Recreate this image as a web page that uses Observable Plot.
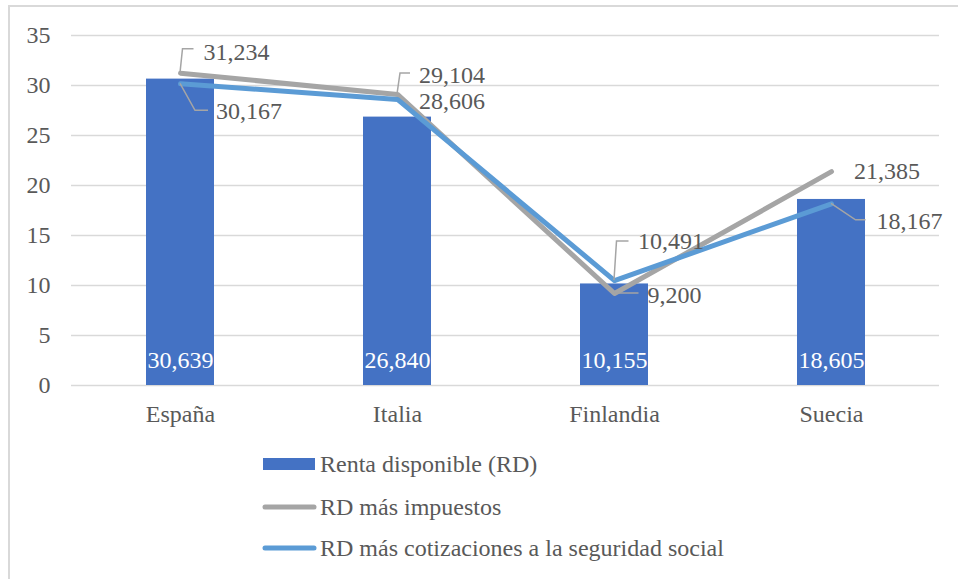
<!DOCTYPE html>
<html>
<head>
<meta charset="utf-8">
<script src="https://cdn.jsdelivr.net/npm/d3@7"></script>
<script src="https://cdn.jsdelivr.net/npm/@observablehq/plot@0.6"></script>
<style>
  html, body { margin: 0; padding: 0; background: #fff; }
  #wrap { position: relative; width: 958px; height: 579px; overflow: hidden; font-family: "Liberation Serif", Tinos, "DejaVu Serif", serif; }
  #border { position: absolute; left: 8px; top: 5px; width: 1000px; height: 700px; border: 2px solid #D9D9D9; box-sizing: border-box; }
  #chart { position: absolute; left: 0; top: 0; }
  .leg { position: absolute; left: 260px; height: 30px; width: 600px; }
  .leg svg { position: absolute; left: 0; top: 0; }
  .leg span { position: absolute; left: 60px; top: 0; font-size: 24px; color: #595959; white-space: nowrap; line-height: 30px; font-family: "Liberation Serif", Tinos, "DejaVu Serif", serif; }
</style>
</head>
<body>
<div id="wrap">
  <div id="border"></div>
  <div id="chart"></div>
  <div id="legend"></div>
</div>
<script>
const categories = ["España", "Italia", "Finlandia", "Suecia"];
const renta = [30.639, 26.840, 10.155, 18.605];
const impuestos = [31.234, 29.104, 9.200, 21.385];
const cotizaciones = [30.167, 28.606, 10.491, 18.167];
const yTicks = [0, 5, 10, 15, 20, 25, 30, 35];
const seriesNames = ["Renta disponible (RD)", "RD más impuestos", "RD más cotizaciones a la seguridad social"];

const FONT = "'Liberation Serif', Tinos, 'DejaVu Serif', serif";
const FS = 24;
const colBar = "#4472C4", colGray = "#A5A5A5", colBlue = "#5B9BD5", textCol = "#595959";
const fmt = d3.formatLocale({decimal: ",", thousands: ".", grouping: [3], currency: ["", "€"]}).format(".3f");

const bars = categories.map((c, i) => ({cat: c, v: renta[i]}));
const gray = categories.map((c, i) => ({cat: c, v: impuestos[i]}));
const blue = categories.map((c, i) => ({cat: c, v: cotizaciones[i]}));

// label offsets (pixels): [dx, dy, leader polyline points]
const grayLab = [
  {dx: 23, dy: -21, lead: [[0, 0], [2.5, -24], [13.5, -24]]},
  {dx: 21.5, dy: -19, lead: [[0, 0], [3, -21], [13, -21]]},
  {dx: 33, dy: 2, lead: [[0, 0], [24.5, 0]]},
  {dx: 22.5, dy: 0, lead: null}
];
const blueLab = [
  {dx: 35.5, dy: 27, lead: [[0, 0], [15, 27], [28, 27]]},
  {dx: 21.5, dy: 2, lead: null},
  {dx: 23.5, dy: -39, lead: [[0, 0], [2.5, -39], [14.5, -39]]},
  {dx: 45, dy: 17, lead: [[0, 0], [24.5, 16.5], [34.5, 16.5]]}
];

const labelMarks = [];
[[gray, grayLab], [blue, blueLab]].forEach(([data, labs]) => {
  data.forEach((d, i) => {
    labelMarks.push(Plot.text([d], {
      x: "cat", y: "v", text: dd => fmt(dd.v),
      dx: labs[i].dx, dy: labs[i].dy, textAnchor: "start", lineAnchor: "middle",
      fill: textCol, fontSize: FS, fontFamily: FONT
    }));
  });
});

const plot = Plot.plot({
  width: 958,
  height: 440,
  marginLeft: 71,
  marginRight: 19,
  marginTop: 35,
  marginBottom: 55,
  style: {fontFamily: FONT, fontSize: FS + "px", color: textCol, background: "transparent"},
  x: {domain: categories, paddingInner: 0.687, paddingOuter: 0.3435, align: 0.5, label: null},
  y: {domain: [0, 35], label: null},
  marks: [
    Plot.gridY(yTicks, {stroke: "#D9D9D9", strokeOpacity: 1, strokeWidth: 1.5}),
    Plot.axisY(yTicks, {tickSize: 0, tickPadding: 21, fontSize: FS, fontFamily: FONT, fill: textCol, label: null}),
    Plot.axisX({tickSize: 0, tickPadding: 19, fontSize: FS, fontFamily: FONT, fill: textCol, label: null}),
    Plot.barY(bars, {x: "cat", y: "v", fill: colBar}),
    Plot.text(bars, {x: "cat", y: 0, text: d => fmt(d.v), dy: -25, fill: "white", fontSize: FS, fontFamily: FONT, lineAnchor: "middle"}),
    Plot.line(gray, {x: "cat", y: "v", stroke: colGray, strokeWidth: 5, strokeLinejoin: "round", strokeLinecap: "round"}),
    Plot.line(blue, {x: "cat", y: "v", stroke: colBlue, strokeWidth: 5, strokeLinejoin: "round", strokeLinecap: "round"}),
    ...labelMarks
  ]
});
document.getElementById("chart").appendChild(plot);

// leader lines, positioned through the plot's own scales
const xs = plot.scale("x"), ys = plot.scale("y");
const bw = xs.bandwidth || 0;
const svg = d3.select(plot);
const g = svg.append("g").attr("fill", "none").attr("stroke", colGray).attr("stroke-width", 1.5);
[[gray, grayLab], [blue, blueLab]].forEach(([data, labs]) => {
  data.forEach((d, i) => {
    if (!labs[i].lead) return;
    const px = xs.apply(d.cat) + bw / 2, py = ys.apply(d.v);
    g.append("path").attr("d", d3.line()(labs[i].lead.map(([a, b]) => [px + a, py + b])));
  });
});

// legend
const leg = document.getElementById("legend");
const legendTops = [449, 492, 533];
seriesNames.forEach((name, i) => {
  const div = document.createElement("div");
  div.className = "leg";
  div.style.top = legendTops[i] + "px";
  const sw = i === 0
    ? `<svg width="60" height="30"><rect x="3" y="9" width="52" height="12" fill="${colBar}"/></svg>`
    : `<svg width="60" height="30"><line x1="5" y1="15" x2="54" y2="15" stroke="${i === 1 ? colGray : colBlue}" stroke-width="5" stroke-linecap="round"/></svg>`;
  div.innerHTML = sw + `<span>${name}</span>`;
  leg.appendChild(div);
});
</script>
</body>
</html>
